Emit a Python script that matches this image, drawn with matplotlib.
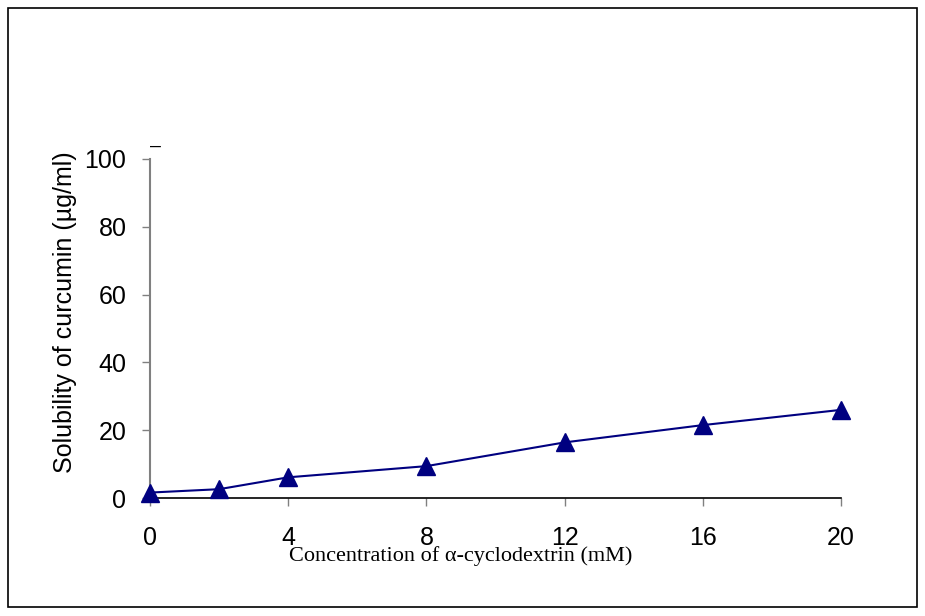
import matplotlib
matplotlib.use("Agg")
import matplotlib.pyplot as plt
from matplotlib.patches import Rectangle

conc = [0, 2, 4, 8, 12, 16, 20]
solubility = [1.6, 2.6, 6.1, 9.4, 16.4, 21.5, 26.0]
xticks = [0, 4, 8, 12, 16, 20]
yticks = [0, 20, 40, 60, 80, 100]

fig = plt.figure(figsize=(9.25, 6.16), dpi=100)
fig.patch.set_facecolor("white")
fig.patches.append(Rectangle((8/925, 1-607/616), 909/925, 599/616, transform=fig.transFigure,
                             fill=False, edgecolor="black", linewidth=1.2))

ax = fig.add_axes([150/925, 1-498/616, 691/925, 339/616])
ax.plot(conc, solubility, color="#000080", linewidth=1.5, marker="^", markersize=13,
        markerfacecolor="#000080", markeredgecolor="#000080", clip_on=False, zorder=3)
ax.set_xlim(0, 20)
ax.set_ylim(0, 100)
ax.set_xticks(xticks)
ax.set_yticks(yticks)
for s in ["top", "right"]:
    ax.spines[s].set_visible(False)
ax.spines["left"].set_color("#808080")
ax.spines["left"].set_linewidth(1.5)
ax.spines["bottom"].set_color("black")
ax.spines["bottom"].set_linewidth(1.2)
ax.tick_params(axis="y", direction="out", length=6, width=1, color="#808080",
               labelsize=18, pad=11)
ax.tick_params(axis="x", direction="out", length=6, width=1, color="#808080",
               labelsize=18, pad=14)
for lbl in ax.get_xticklabels() + ax.get_yticklabels():
    lbl.set_fontfamily("Liberation Sans")

fig.text(65/925, 1-312/616, "Solubility of curcumin (µg/ml)", rotation=90, ha="center",
         va="center", fontsize=18, fontfamily="Liberation Sans")
fig.text(461/925, 1-556/616, "Concentration of α-cyclodextrin (mM)", ha="center", va="center",
         fontsize=16, fontfamily=["Liberation Serif", "DejaVu Sans"])
fig.text(155/925, 1-146/616, "–", ha="center", va="center", fontsize=14,
         fontfamily="Liberation Sans")

fig.savefig("out.png", dpi=100)
